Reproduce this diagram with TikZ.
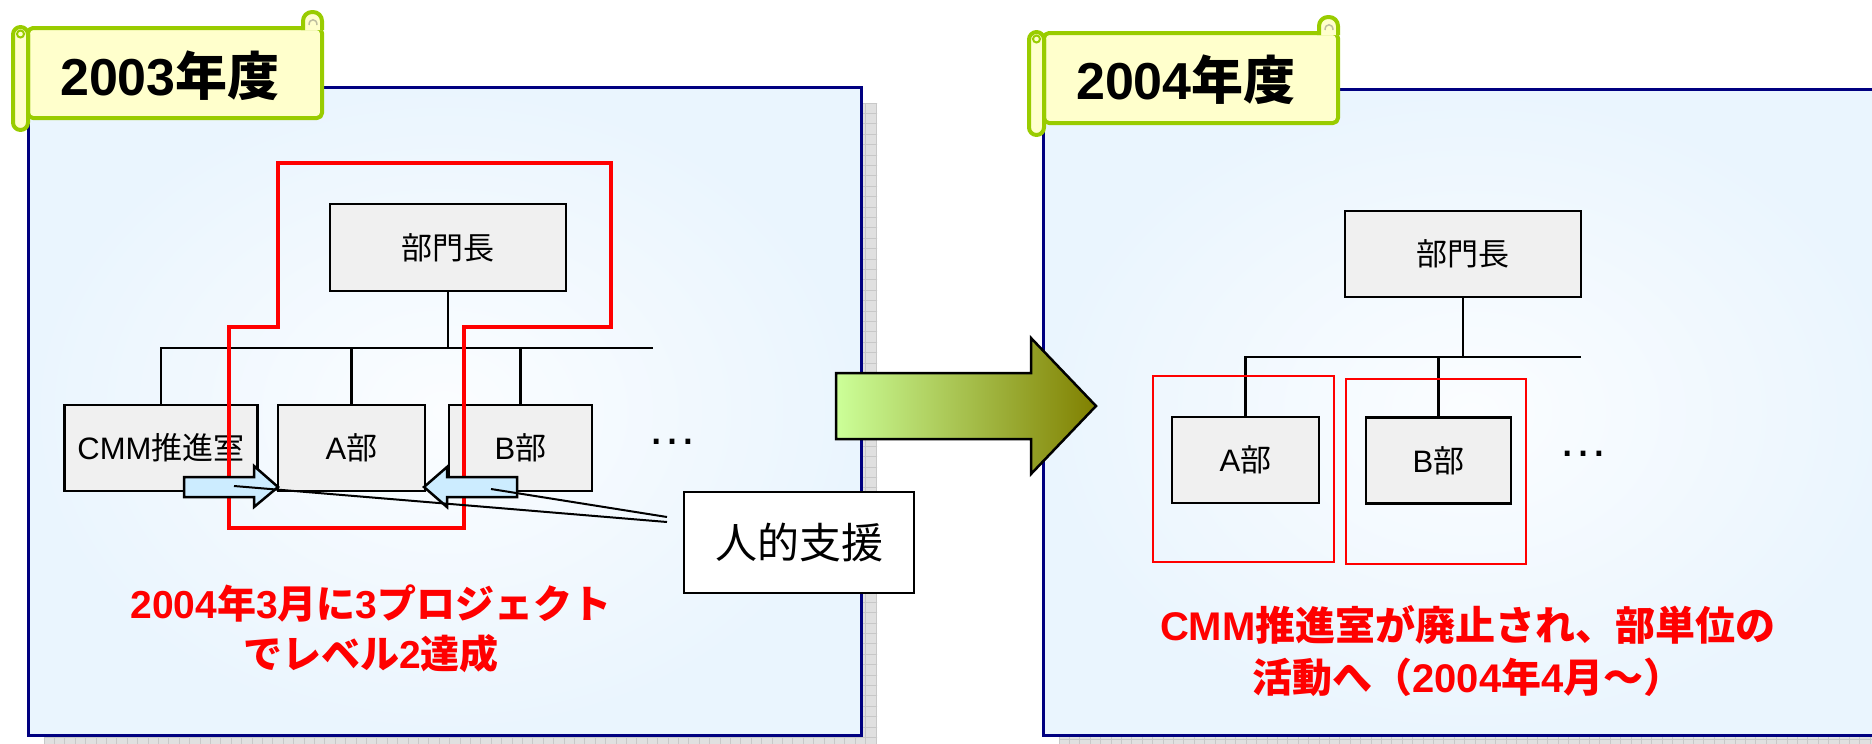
\documentclass[tikz,border=0pt]{standalone}
\usepackage{fontspec}
\setmainfont{Liberation Sans}
\newfontfamily\cjk{Noto Sans CJK JP}
\newcommand\J[1]{{\cjk #1}}
\definecolor{navy}{RGB}{0,0,128}
\definecolor{tagfill}{RGB}{255,255,204}
\definecolor{tagline}{RGB}{153,204,0}
\definecolor{boxfill}{RGB}{240,240,240}
\definecolor{arrfill}{RGB}{204,236,255}
\definecolor{panelout}{RGB}{234,245,254}
\definecolor{panelin}{RGB}{251,253,255}
\definecolor{shad}{RGB}{224,224,224}
\definecolor{shadline}{RGB}{200,200,200}
\definecolor{bigL}{RGB}{204,255,153}
\definecolor{bigR}{RGB}{128,128,0}
\begin{document}
\begin{tikzpicture}[x=1pt,y=-1pt,
  tagst/.style={draw=tagline, fill=tagfill, line width=4pt, line join=round},
  orgbox/.style={draw=black, fill=boxfill, line width=2.5pt, inner sep=0pt, font=\fontsize{31}{36}\selectfont},
  conn/.style={draw=black, line width=2.5pt},
  panelbd/.style={draw=navy, line width=3pt},
  redline/.style={draw=red, line width=3.5pt, line join=miter},
  redthin/.style={draw=red, line width=2.2pt},
  bluearr/.style={draw=black, fill=arrfill, line width=2.5pt, line join=miter},
  redt/.style={text=red, font=\bfseries\fontsize{39}{50}\selectfont, align=center, inner sep=0pt},
  tagtext/.style={font=\bfseries\fontsize{52}{60}\selectfont, inner sep=0pt},
  dotst/.style={anchor=base, font=\fontsize{50}{50}\selectfont, inner sep=0pt},
  callline/.style={draw=black, line width=2pt}]
\useasboundingbox (0,0) rectangle (1872,744);
\clip (0,0) rectangle (1872,744);
% ---------- shadows
\begin{scope}
\clip (44,103) rectangle (877,751);
\fill[shad] (44,103) rectangle (877,751);
\foreach \i in {0,...,81} {\draw[shadline, line width=0.8pt] ({44+\i*10.4},103) -- ++(0,660);}
\foreach \j in {0,...,63} {\draw[shadline, line width=0.8pt] (44,{103+\j*10.4}) -- ++(840,0);}
\end{scope}
\begin{scope}
\clip (1059,105) rectangle (1900,751);
\fill[shad] (1059,105) rectangle (1900,751);
\foreach \i in {0,...,81} {\draw[shadline, line width=0.8pt] ({1059+\i*10.4},105) -- ++(0,660);}
\foreach \j in {0,...,63} {\draw[shadline, line width=0.8pt] (1059,{105+\j*10.4}) -- ++(850,0);}
\end{scope}
% ---------- panels
\shade[inner color=panelin, outer color=panelout] (28,87) rectangle (861,735);
\draw[panelbd] (28,87) rectangle (861,735);
\shade[inner color=panelin, outer color=panelout] (1043,89) rectangle (1900,735);
\draw[panelbd] (1043,89) rectangle (1900,735);
% ---------- tags
\foreach \dx/\dy in {0/0,1016/5} {
\begin{scope}[shift={(\dx,\dy)}]
  \draw[tagst, rounded corners=5pt] (28,28) -- (322,28) -- (322,118) -- (28,118) -- cycle;
  \draw[tagst, rounded corners=9pt] (303,30) -- (303,12) -- (322,12) -- (322,30);
  \draw[draw={rgb,255:red,190;green,190;blue,160}, line width=1.5pt] (309,25) .. controls (309,18) and (317,18) .. (317,25);
  \draw[tagst, rounded corners=7.5pt] (13,27) rectangle (28,130);
  \draw[draw=tagline, line width=2pt] (20.5,34) circle[radius=3.5pt];
\end{scope}}
\node[tagtext] (y03) at (170,76) {2003\J{年度}};
\node[tagtext] (y04) at (1186,80) {2004\J{年度}};
% ---------- left org chart
\node[orgbox, minimum width=236pt, minimum height=87pt] (boss1) at (448,247.5) {\J{部門長}};
\node[orgbox, minimum width=193pt, minimum height=86pt] (cmm) at (161,448) {CMM\J{推進室}};
\node[orgbox, minimum width=147pt, minimum height=86pt] (a1) at (351.5,448) {A\J{部}};
\node[orgbox, minimum width=143pt, minimum height=86pt] (b1) at (520.5,448) {B\J{部}};
\coordinate (hl1) at (653,348);
\draw[conn] (cmm.north) |- (hl1);
\draw[conn] (boss1.south) -- (boss1.south |- hl1);
\draw[conn] (a1.north) -- (a1.north |- hl1);
\draw[conn] (b1.north) -- (b1.north |- hl1);
\node[dotst] (dots1) at (672,444) {…};
% red group
\draw[redline] (278,163) -- (611,163) -- (611,327) -- (464,327) -- (464,528) -- (229,528) -- (229,327) -- (278,327) -- cycle;
% blue support arrows
\draw[bluearr] (184,477) -- (254,477) -- (254,466) -- (278,487) -- (254,507) -- (254,497) -- (184,497) -- cycle;
\draw[bluearr] (517,477) -- (447,477) -- (447,467) -- (424,487) -- (447,507) -- (447,497) -- (517,497) -- cycle;
% callout
\node[draw=black, fill=white, line width=2.5pt, minimum width=230pt, minimum height=101pt, inner sep=0pt, font=\fontsize{42}{48}\selectfont] (help) at (799,542.5) {\J{人的支援}};
\coordinate (cs1) at (234,486);
\coordinate (cs2) at (491,489);
\coordinate (ce1) at (667,522);
\coordinate (ce2) at (667,517);
\draw[callline] (cs1) -- (ce1);
\draw[callline] (cs2) -- (ce2);
\node[redt] (res03) at (371,629) {2004\J{年}3\J{月に}3\J{プロジェクト}\\\J{でレベル}2\J{達成}};
% ---------- big arrow
\path[draw=black, line width=2.5pt, line join=miter, left color=bigL, right color=bigR]
  (836,373) -- (1031,373) -- (1031,338) -- (1096,406) -- (1031,474) -- (1031,439) -- (836,439) -- cycle;
% ---------- right org chart
\node[orgbox, minimum width=236pt, minimum height=86pt] (boss2) at (1463,254) {\J{部門長}};
\node[orgbox, minimum width=147pt, minimum height=86pt] (a2) at (1245.5,460) {A\J{部}};
\node[orgbox, minimum width=145pt, minimum height=86pt] (b2) at (1438.5,460.5) {B\J{部}};
\coordinate (hl2) at (1581,357);
\draw[conn] (a2.north) |- (hl2);
\draw[conn] (boss2.south) -- (boss2.south |- hl2);
\draw[conn] (b2.north) -- (b2.north |- hl2);
\node[dotst] (dots2) at (1583,456) {…};
\draw[redthin] (1153,376) rectangle (1334,562);
\draw[redthin] (1346,379) rectangle (1526,564);
\node[redt, font=\bfseries\fontsize{40}{52}\selectfont] (res04) at (1468,651) {CMM\J{推進室が廃止され、部単位の}\\\J{活動へ（}2004\J{年}4\J{月～）}};
\end{tikzpicture}
\end{document}
